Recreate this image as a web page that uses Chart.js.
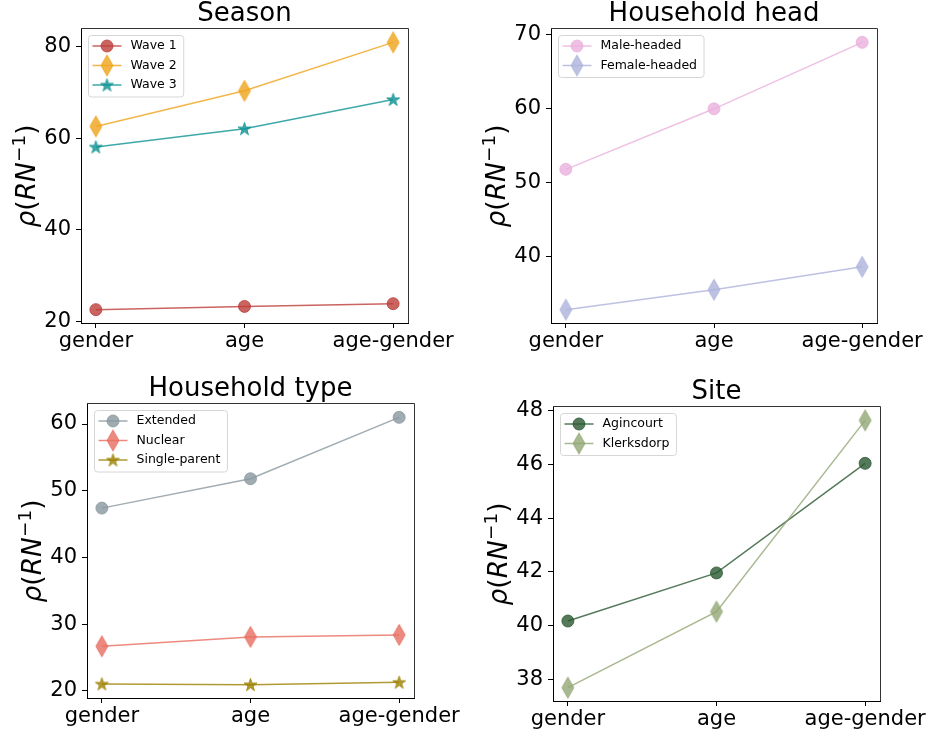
<!DOCTYPE html>
<html>
<head>
<meta charset="utf-8">
<script src="https://cdn.jsdelivr.net/npm/chart.js@4.4.1/dist/chart.umd.min.js"></script>
<style>
  body { margin: 0; background: #fff; }
  #fig { position: relative; width: 930px; height: 736px; }
  .painel { position: absolute; width: 465px; height: 368px; }
</style>
</head>
<body>
<div id="fig">
  <div class="painel" style="left:0;top:0"><canvas id="c1"></canvas></div>
  <div class="painel" style="left:465px;top:0"><canvas id="c2"></canvas></div>
  <div class="painel" style="left:0;top:368px"><canvas id="c3"></canvas></div>
  <div class="painel" style="left:465px;top:368px"><canvas id="c4"></canvas></div>
</div>
<script>
// dados
const categorias = ['gender', 'age', 'age-gender']

// Season
const wave1 = [22.5, 23.2, 23.8]
const wave2 = [62.6, 70.4, 81.0]
const wave3 = [58.1, 62.1, 68.5]
const ticksSeason = [20, 40, 60, 80]

// Household head
const maleHeaded = [51.8, 60.0, 69.0]
const femaleHeaded = [32.8, 35.5, 38.6]
const ticksHead = [40, 50, 60, 70]

// Household type
const extended = [47.4, 51.8, 61.0]
const nuclear = [26.7, 28.1, 28.4]
const singleParent = [21.05, 20.95, 21.3]
const ticksType = [20, 30, 40, 50, 60]

// Site
const agincourt = [40.17, 41.96, 46.04]
const klerksdorp = [37.69, 40.52, 47.64]
const ticksSite = [38, 40, 42, 44, 46, 48]

Chart.defaults.font.family = '"DejaVu Sans"'

// marcadores (diamante fino e estrela, como no matplotlib)
function marcador(tipo, cor) {
  if (tipo === 'circle') return 'circle'
  const c = document.createElement('canvas')
  const ctx = c.getContext('2d')
  if (tipo === 'diamond') {
    c.width = 16; c.height = 24
    ctx.beginPath()
    ctx.moveTo(8, 1.5); ctx.lineTo(14, 12); ctx.lineTo(8, 22.5); ctx.lineTo(2, 12)
  } else {
    c.width = 17; c.height = 17
    ctx.beginPath()
    for (let k = 0; k < 10; k++) {
      const r = k % 2 ? 2.6 : 6.8
      const a = -Math.PI / 2 + k * Math.PI / 5
      ctx.lineTo(8.5 + r * Math.cos(a), 9 + r * Math.sin(a))
    }
  }
  ctx.closePath()
  ctx.fillStyle = cor
  ctx.fill()
  ctx.strokeStyle = cor
  ctx.lineWidth = 1
  ctx.stroke()
  return c
}

// titulo, rotulo do eixo y, moldura e legenda
const painelPlugin = {
  id: 'painel',
  afterDraw(chart, args, opts) {
    const ctx = chart.ctx
    const a = chart.chartArea
    ctx.save()

    // moldura de cima e da direita
    ctx.strokeStyle = '#333'
    ctx.lineWidth = 1
    ctx.beginPath()
    ctx.moveTo(a.left, Math.round(a.top) - 0.5)
    ctx.lineTo(Math.round(a.right) + 0.5, Math.round(a.top) - 0.5)
    ctx.lineTo(Math.round(a.right) + 0.5, a.bottom)
    ctx.stroke()

    // titulo
    ctx.fillStyle = '#000'
    ctx.font = '26px "DejaVu Sans"'
    ctx.textAlign = 'center'
    ctx.textBaseline = 'alphabetic'
    ctx.fillText(opts.titulo, (a.left + a.right) / 2, a.top - 8)

    // rotulo y: rho(RN^-1)
    const partes = [
      { t: 'ρ', f: 'italic 26.5px "DejaVu Sans"', dy: 0 },
      { t: '(', f: '26.5px "DejaVu Sans"', dy: 0 },
      { t: 'RN', f: 'italic 26.5px "DejaVu Sans"', dy: 0 },
      { t: '−1', f: '18.5px "DejaVu Sans"', dy: -10 },
      { t: ')', f: '26.5px "DejaVu Sans"', dy: 0 }
    ]
    let total = 0
    partes.forEach(p => { ctx.font = p.f; p.w = ctx.measureText(p.t).width; total += p.w })
    ctx.translate(a.left - 46, (a.top + a.bottom) / 2)
    ctx.rotate(-Math.PI / 2)
    ctx.textAlign = 'left'
    let x = -total / 2
    partes.forEach(p => { ctx.font = p.f; ctx.fillText(p.t, x, p.dy); x += p.w })
    ctx.setTransform(1, 0, 0, 1, 0, 0)

    // legenda
    const ds = chart.data.datasets
    ctx.font = '12.5px "DejaVu Sans"'
    let wmax = 0
    ds.forEach(d => { wmax = Math.max(wmax, ctx.measureText(d.label).width) })
    const L = Math.round(a.left + 7) + 0.5
    const T = Math.round(a.top + 6) + 0.5
    const W = 42 + wmax + 7
    const H = ds.length * 19.5 + 3
    ctx.beginPath()
    ctx.roundRect(L, T, W, H, 3)
    ctx.fillStyle = 'rgba(255,255,255,0.8)'
    ctx.fill()
    ctx.strokeStyle = '#d6d6d6'
    ctx.stroke()
    ds.forEach((d, i) => {
      const y = T + 10.5 + i * 19.5
      ctx.strokeStyle = d.borderColor
      ctx.lineWidth = 1.5
      ctx.beginPath()
      ctx.moveTo(L + 4, y)
      ctx.lineTo(L + 33, y)
      ctx.stroke()
      const cx = L + 18.5
      if (d.pointStyle === 'circle') {
        ctx.beginPath()
        ctx.arc(cx, y, 6, 0, Math.PI * 2)
        ctx.fillStyle = d.pointBackgroundColor
        ctx.fill()
        ctx.lineWidth = 1
        ctx.strokeStyle = d.pointBorderColor
        ctx.stroke()
      } else {
        const img = d.pointStyle
        ctx.drawImage(img, cx - img.width / 2, y - img.height / 2)
      }
      ctx.fillStyle = '#000'
      ctx.textAlign = 'left'
      ctx.textBaseline = 'middle'
      ctx.fillText(d.label, L + 42, y)
    })
    ctx.restore()
  }
}

function grafico(id, titulo, series, yTicks, caixa) {
  const todos = series.flatMap(s => s.valores)
  const vmin = Math.min(...todos)
  const vmax = Math.max(...todos)
  const margem = (vmax - vmin) * 0.05

  const datasets = series.map((s, i) => ({
    label: s.label,
    data: s.valores.map((v, j) => ({ x: j, y: v })),
    borderColor: s.cor,
    borderWidth: 1.5,
    pointStyle: marcador(s.marcador, s.cor),
    pointRadius: 6,
    pointBackgroundColor: s.cor,
    pointBorderColor: s.cor,
    pointBorderWidth: 1,
    tension: 0,
    order: series.length - 1 - i
  }))

  const config = {
    type: 'line',
    data: { datasets },
    options: {
      responsive: true,
      maintainAspectRatio: false,
      animation: false,
      events: [],
      layout: { padding: { left: 0, right: caixa.dir, top: caixa.topo, bottom: 0 } },
      scales: {
        x: {
          type: 'linear',
          min: -0.1,
          max: 2.1,
          afterBuildTicks: s => { s.ticks = categorias.map((c, i) => ({ value: i })) },
          afterFit: s => { s.height = caixa.baixo },
          ticks: {
            callback: v => categorias[v],
            autoSkip: false,
            maxRotation: 0,
            color: '#000',
            font: { size: 21 },
            padding: 1
          },
          grid: { drawOnChartArea: false, tickLength: 5, color: '#000' },
          border: { color: '#000', width: 1 }
        },
        y: {
          min: vmin - margem,
          max: vmax + margem,
          afterBuildTicks: s => { s.ticks = yTicks.map(v => ({ value: v })) },
          afterFit: s => { s.width = caixa.esq },
          ticks: { color: '#000', font: { size: 21 }, padding: 5 },
          grid: { drawOnChartArea: false, tickLength: 5, color: '#000' },
          border: { color: '#000', width: 1 }
        }
      },
      plugins: {
        legend: { display: false },
        tooltip: { enabled: false },
        painel: { titulo }
      }
    },
    plugins: [painelPlugin]
  }
  return new Chart(document.getElementById(id), config)
}

grafico('c1', 'Season', [
  { label: 'Wave 1', valores: wave1, cor: 'rgba(189,61,56,0.8)', marcador: 'circle' },
  { label: 'Wave 2', valores: wave2, cor: 'rgba(239,164,26,0.8)', marcador: 'diamond' },
  { label: 'Wave 3', valores: wave3, cor: 'rgba(14,146,146,0.8)', marcador: 'star' }
], ticksSeason, { esq: 81, dir: 57, topo: 29, baixo: 45 })

grafico('c2', 'Household head', [
  { label: 'Male-headed', valores: maleHeaded, cor: 'rgba(234,176,221,0.8)', marcador: 'circle' },
  { label: 'Female-headed', valores: femaleHeaded, cor: 'rgba(174,179,219,0.8)', marcador: 'diamond' }
], ticksHead, { esq: 86, dir: 53, topo: 29, baixo: 45 })

grafico('c3', 'Household type', [
  { label: 'Extended', valores: extended, cor: 'rgba(136,151,159,0.8)', marcador: 'circle' },
  { label: 'Nuclear', valores: nuclear, cor: 'rgba(231,109,96,0.8)', marcador: 'diamond' },
  { label: 'Single-parent', valores: singleParent, cor: 'rgba(156,129,0,0.8)', marcador: 'star' }
], ticksType, { esq: 87, dir: 51, topo: 36, baixo: 38 })

grafico('c4', 'Site', [
  { label: 'Agincourt', valores: agincourt, cor: 'rgba(43,89,49,0.8)', marcador: 'circle' },
  { label: 'Klerksdorp', valores: klerksdorp, cor: 'rgba(146,166,116,0.8)', marcador: 'diamond' }
], ticksSite, { esq: 88, dir: 50, topo: 39, baixo: 35 })
</script>
</body>
</html>
